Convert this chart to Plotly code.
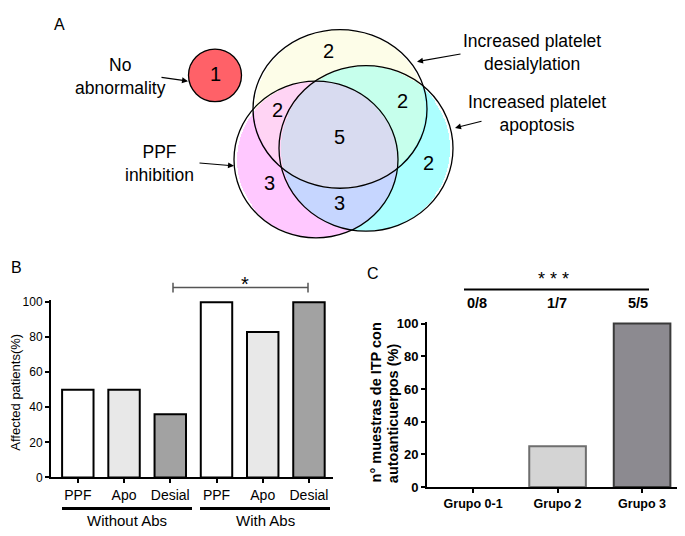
import numpy as np
import plotly.graph_objects as go

# the page has an 8px body margin, so the figure starts at (8, 8)
OFF = 8
W, H = 685 - OFF, 536 - OFF

# -----------------------------
# Data
# -----------------------------
# Panel A - Venn counts
venn_sets = ["Increased platelet<br>desialylation", "Increased platelet<br>apoptosis", "PPF<br>inhibition"]
venn_counts = [2, 2, 2, 5, 2, 3, 3]   # desial only, desial+apo, desial+ppf, all, apo only, ppf only, ppf+apo
no_abnormality = 1

# Panel B
b_cats = ["PPF", "Apo", "Desial", "PPF", "Apo", "Desial"]
b_values = [50, 50, 36, 100, 83, 100]
b_groups = ["Without Abs", "With Abs"]
b_ticks = [0, 20, 40, 60, 80, 100]

# Panel C
c_cats = ["Grupo 0-1", "Grupo 2", "Grupo 3"]
c_values = [0, 25, 100]
c_ratios = ["0/8", "1/7", "5/5"]
c_ticks = [0, 20, 40, 60, 80, 100]

FONT = "Liberation Sans, Arial, sans-serif"


def px(x):
    return (x - OFF) / W


def py(y):
    return 1 - (y - OFF) / H


fig = go.Figure()

# -----------------------------
# Panel A - Venn fill (region colours), outlines are drawn as shapes
# -----------------------------
des = (340, 105.5, 87, 81.5)
apo = (366, 146, 87, 85)
ppf = (316, 157.5, 82, 80.5)

VX0, VX1, VY0, VY1 = 230, 460, 20, 242
gx, gy = np.meshgrid(np.arange(VX0, VX1) + 0.5, np.arange(VY0, VY1) + 0.5)


def inside(e):
    cx, cy, rx, ry = e
    return ((gx - cx) / rx) ** 2 + ((gy - cy) / ry) ** 2 <= 1


code = inside(des) * 1 + inside(apo) * 2 + inside(ppf) * 4
region_colors = {
    0: (255, 255, 255),
    1: (253, 253, 232),   # desial only
    2: (172, 255, 255),   # apo only
    3: (198, 255, 236),   # desial + apo
    4: (255, 200, 255),   # ppf only
    5: (255, 212, 244),   # desial + ppf
    6: (198, 214, 255),   # apo + ppf
    7: (216, 219, 240),   # all
}
img = np.zeros(code.shape + (3,), dtype=np.uint8)
for k, c in region_colors.items():
    img[code == k] = c
fig.add_trace(go.Image(z=img, x0=VX0 + 0.5, y0=VY0 + 0.5, dx=1, dy=1,
                       xaxis="x3", yaxis="y3", hoverinfo="skip"))

# -----------------------------
# Panel B bars
# -----------------------------
b_fill = ["#ffffff", "#e8e8e8", "#a2a2a2"] * 2
fig.add_trace(go.Bar(
    x=list(range(len(b_values))), y=b_values,
    marker=dict(color=b_fill, line=dict(color="black", width=2)),
    width=0.68, xaxis="x", yaxis="y", showlegend=False, hoverinfo="skip"
))

# -----------------------------
# Panel C bars
# -----------------------------
c_fill = ["rgba(0,0,0,0)", "#d4d4d4", "#8c8a90"]
c_line = ["rgba(0,0,0,0)", "#6e6e6e", "#3a3a3a"]
fig.add_trace(go.Bar(
    x=list(range(len(c_values))), y=c_values,
    marker=dict(color=c_fill, line=dict(color=c_line, width=2)),
    width=0.67, xaxis="x2", yaxis="y2", showlegend=False, hoverinfo="skip"
))

axis_common = dict(showline=True, linecolor="black", linewidth=2, showgrid=False, zeroline=False,
                   ticks="outside", ticklen=4, tickwidth=1.5, tickcolor="black", fixedrange=True)

fig.update_layout(
    width=W, height=H,
    margin=dict(l=0, r=0, t=0, b=0),
    paper_bgcolor="white", plot_bgcolor="white",
    font=dict(family=FONT, color="black"),
    xaxis=dict(domain=[px(51), px(333)], range=[-0.58, 5.52], anchor="y",
               tickvals=list(range(6)), ticktext=b_cats, tickfont=dict(size=14), **axis_common),
    yaxis=dict(domain=[py(484), py(484 - 101 * 1.8)], range=[0, 101], anchor="x",
               tickvals=b_ticks, tickfont=dict(size=12), **axis_common),
    xaxis2=dict(domain=[px(427), 1], range=[-0.545, 2.508], anchor="y2",
                tickvals=list(range(3)), ticktext=["<b>%s</b>" % c for c in c_cats],
                tickfont=dict(size=12.5), **axis_common),
    yaxis2=dict(domain=[py(494), py(494 - 101 * 1.68)], range=[0, 101], anchor="x2",
                tickvals=c_ticks, ticktext=["<b>%d</b>" % t for t in c_ticks],
                tickfont=dict(size=13), **axis_common),
    xaxis3=dict(domain=[px(VX0), px(VX1)], range=[VX0, VX1], visible=False, fixedrange=True),
    yaxis3=dict(domain=[py(VY1), py(VY0)], range=[VY1, VY0], visible=False, fixedrange=True,
                anchor="x3"),
)

shapes = []
annotations = []


def text(x, y, s, size=15, xanchor="center", yanchor="middle", **kw):
    annotations.append(dict(x=px(x), y=py(y), xref="paper", yref="paper", text=s,
                            xanchor=xanchor, yanchor=yanchor,
                            showarrow=False, font=dict(size=size, family=FONT, color="black"), **kw))


def arrow(x0, y0, x1, y1):
    annotations.append(dict(x=px(x1), y=py(y1), xref="paper", yref="paper", text="",
                            showarrow=True, ax=x0 - x1, ay=y0 - y1, axref="pixel", ayref="pixel",
                            arrowhead=2, arrowsize=1, arrowwidth=1.2, arrowcolor="black"))


def line(x0, y0, x1, y1, width=1.5, color="black"):
    shapes.append(dict(type="line", xref="paper", yref="paper", x0=px(x0), y0=py(y0),
                       x1=px(x1), y1=py(y1), line=dict(color=color, width=width)))


def ellipse(cx, cy, rx, ry, fill="rgba(0,0,0,0)"):
    shapes.append(dict(type="circle", xref="paper", yref="paper",
                       x0=px(cx - rx), x1=px(cx + rx), y0=py(cy + ry), y1=py(cy - ry),
                       fillcolor=fill, line=dict(color="black", width=1.3)))


for e in (apo, ppf, des):
    ellipse(*e)
ellipse(215, 71, 26.5, 27, "#ff6168")

count_pos = [(328, 46), (402, 97), (277, 107), (339, 134), (428, 161), (269, 182), (339, 202)]
for (x, y), n in zip(count_pos, venn_counts):
    text(x, y, str(n), size=20)
text(215, 70, str(no_abnormality), size=20)

text(52, 8, "A", size=16, xanchor="left", yanchor="top")
text(120, 72.5, "No<br>abnormality", size=17.5)
arrow(160, 73, 188, 77)
text(159, 162, venn_sets[2], size=17.5)
arrow(198, 161, 234, 164)
text(532, 48, venn_sets[0], size=17.5)
arrow(462, 49, 417, 57)
text(537, 110, venn_sets[1], size=17.5)
arrow(483, 118, 455, 125)

# -----------------------------
# Panel B decorations
# -----------------------------
text(9, 268, "B", size=16, xanchor="left")
text(16, 397, "Affected patients(%)", size=13, textangle=-90)
line(62, 516, 192, 516, width=3)
line(200, 516, 330, 516, width=3)
text(127, 528, b_groups[0], size=15)
text(265, 528, b_groups[1], size=15)
line(173, 289, 308, 289, color="#555555")
line(173, 284, 173, 294, color="#555555")
line(308, 284, 308, 294, color="#555555")
text(245, 285, "*", size=20)

# -----------------------------
# Panel C decorations
# -----------------------------
text(373, 275, "C", size=16)
text(376, 407, "<b>n° muestras de ITP con</b>", size=14.5, textangle=-90)
text(393, 418, "<b>autoanticuerpos (%)</b>", size=14.5, textangle=-90)
line(464, 291, 649, 291, width=2)
text(553, 293, "* * *", size=18, yanchor="bottom")
for x, r in zip([477, 557, 638], c_ratios):
    text(x, 305, "<b>%s</b>" % r, size=14.5)

fig.update_layout(shapes=shapes, annotations=annotations)

fig.write_html("out.html")
